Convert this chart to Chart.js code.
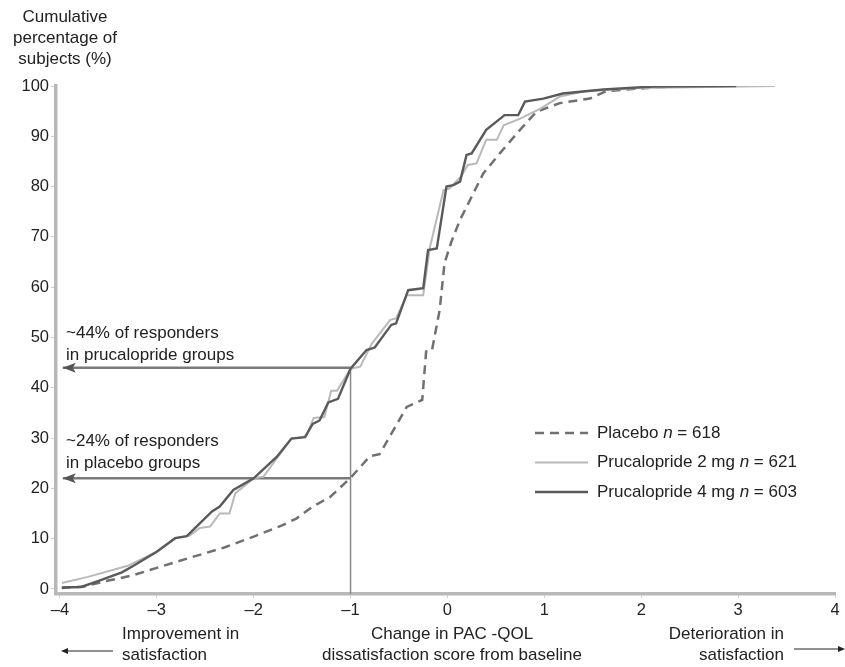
<!DOCTYPE html>
<html>
<head>
<meta charset="utf-8">
<script src="https://cdn.jsdelivr.net/npm/chart.js@4.4.1/dist/chart.umd.min.js"></script>
<style>
  html, body { margin: 0; padding: 0; background: #fff; }
  #wrap { width: 845px; height: 667px; }
</style>
</head>
<body>
<div id="wrap"><canvas id="grafico" width="845" height="667"></canvas></div>
<script>
// valores
const xTicks = [-4, -3, -2, -1, 0, 1, 2, 3, 4];
const yTicks = [0, 10, 20, 30, 40, 50, 60, 70, 80, 90, 100];

const placeboX = [-3.98, -3.75, -3.54, -3.25, -3.0, -2.66, -2.31, -2.0, -1.7, -1.56, -1.39, -1.21, -1.0, -0.8, -0.7, -0.42, -0.26, -0.22, -0.16, -0.08, -0.03, 0.04, 0.13, 0.18, 0.37, 0.54, 0.75, 0.92, 1.16, 1.47, 1.64, 2.2, 2.64];
const placeboY = [0.2, 0.5, 1.5, 2.7, 4.2, 6.2, 8.2, 10.4, 12.7, 14, 16.4, 18.3, 22.1, 26.4, 26.8, 36.2, 37.6, 47.2, 47.4, 55.5, 64.8, 69, 73.4, 75.3, 82.6, 86.6, 91.3, 94.9, 96.6, 97.5, 99, 99.8, 100];

const pru2X = [-3.98, -3.71, -3.3, -3.0, -2.81, -2.66, -2.56, -2.45, -2.35, -2.25, -2.19, -2.0, -1.9, -1.76, -1.61, -1.46, -1.38, -1.27, -1.2, -1.14, -1.0, -0.9, -0.78, -0.59, -0.53, -0.42, -0.25, -0.18, -0.04, 0.02, 0.14, 0.21, 0.3, 0.4, 0.51, 0.58, 0.75, 0.96, 1.16, 1.43, 2.0, 3.38];
const pru2Y = [1.2, 2.4, 4.6, 7.4, 10.1, 10.6, 12.1, 12.4, 15, 15, 19, 22, 22.3, 26, 29.9, 30.3, 34, 34.2, 39.4, 39.4, 43.8, 44.2, 48.8, 53.5, 53.8, 58.4, 58.4, 68, 79.3, 79.6, 82, 84.3, 84.6, 89.3, 89.3, 92.2, 93.5, 95.5, 97.9, 99, 99.6, 100];

const pru4X = [-3.98, -3.78, -3.6, -3.36, -3.24, -3.0, -2.81, -2.69, -2.59, -2.43, -2.35, -2.21, -2.0, -1.76, -1.61, -1.47, -1.39, -1.32, -1.23, -1.13, -1.0, -0.835, -0.75, -0.58, -0.53, -0.405, -0.25, -0.2, -0.11, -0.01, 0.06, 0.13, 0.197, 0.25, 0.4, 0.59, 0.73, 0.8, 0.99, 1.19, 1.61, 2.12, 2.98];
const pru4Y = [0.3, 0.4, 1.6, 3.3, 4.6, 7.4, 10.1, 10.5, 12.4, 15.4, 16.4, 19.7, 22, 26.3, 29.9, 30.2, 32.8, 33.5, 37.1, 37.8, 43.8, 47.5, 48, 52.5, 52.8, 59.4, 59.8, 67.4, 67.7, 80, 80.3, 81, 86.3, 86.6, 91.3, 94.2, 94.2, 96.9, 97.5, 98.5, 99.3, 99.9, 100];

// linhas de referência (setas em 44% e 22%, vertical em -1)
const ref44X = [-3.97, -1];
const ref44Y = [44, 44];
const ref22X = [-3.97, -1];
const ref22Y = [22, 22];
const refVX = [-1, -1];
const refVY = [-1, 44];

const tituloY = ['Cumulative', 'percentage of', 'subjects (%)'];
const legendaNomes = ['Placebo ', 'Prucalopride 2 mg ', 'Prucalopride 4 mg '];
const legendaN = [618, 621, 603];

const FONTE = '"Liberation Sans", Arial, Helvetica, sans-serif';
const COR_P = '#707070';
const COR_2 = '#b9b9b9';
const COR_4 = '#5a5a5a';

const pares = (xs, ys) => xs.map((x, i) => ({ x: x, y: ys[i] }));

const textos = {
    id: 'textos',
    afterDraw(chart) {
        const c = chart.ctx;
        const sx = chart.scales.x, sy = chart.scales.y;
        c.save();
        c.fillStyle = '#222';
        c.font = '17px ' + FONTE;
        c.textBaseline = 'middle';

        c.textAlign = 'center';
        tituloY.forEach((t, i) => c.fillText(t, 65, 17 + i * 21));

        c.textAlign = 'left';
        c.fillText('~44% of responders', 66, 333);
        c.fillText('in prucalopride groups', 66, 355);
        c.fillText('~24% of responders', 66, 441);
        c.fillText('in placebo groups', 66, 463);

        // pontas das setas
        c.fillStyle = '#555';
        [44, 22].forEach(v => {
            const px = sx.getPixelForValue(-3.97), py = sy.getPixelForValue(v);
            c.beginPath();
            c.moveTo(px, py);
            c.lineTo(px + 13, py - 5);
            c.lineTo(px + 10, py);
            c.lineTo(px + 13, py + 5);
            c.closePath();
            c.fill();
        });

        // legenda
        const estilos = [[COR_P, 2.5, [9, 6]], [COR_2, 2, []], [COR_4, 2.5, []]];
        legendaNomes.forEach((nome, i) => {
            const ly = 433 + i * 29.5;
            c.strokeStyle = estilos[i][0];
            c.lineWidth = estilos[i][1];
            c.setLineDash(estilos[i][2]);
            c.beginPath();
            c.moveTo(535, ly);
            c.lineTo(588, ly);
            c.stroke();
            c.setLineDash([]);
            c.fillStyle = '#222';
            let tx = 597;
            c.font = '17px ' + FONTE;
            c.fillText(nome, tx, ly);
            tx += c.measureText(nome).width;
            c.font = 'italic 17px ' + FONTE;
            c.fillText('n', tx, ly);
            tx += c.measureText('n').width;
            c.font = '17px ' + FONTE;
            c.fillText(' = ' + legendaN[i], tx, ly);
        });

        // textos do eixo x
        c.fillStyle = '#222';
        c.font = '17px ' + FONTE;
        c.textAlign = 'left';
        c.fillText('Improvement in', 122, 634);
        c.fillText('satisfaction', 122, 655);
        c.textAlign = 'center';
        c.fillText('Change in PAC -QOL', 452, 634);
        c.fillText('dissatisfaction score from baseline', 452, 655);
        c.textAlign = 'right';
        c.fillText('Deterioration in', 784, 634);
        c.fillText('satisfaction', 784, 655);

        c.strokeStyle = '#222';
        c.lineWidth = 1.2;
        c.beginPath();
        c.moveTo(66, 651); c.lineTo(113, 651);
        c.moveTo(794, 649); c.lineTo(839, 649);
        c.stroke();
        c.fillStyle = '#222';
        c.beginPath();
        c.moveTo(61, 651); c.lineTo(68, 648); c.lineTo(68, 654); c.closePath(); c.fill();
        c.beginPath();
        c.moveTo(845, 649); c.lineTo(838, 646); c.lineTo(838, 652); c.closePath(); c.fill();
        c.restore();
    }
};

const ctx = document.getElementById('grafico').getContext('2d');
const chart = new Chart(ctx, {
    type: 'scatter',
    data: {
        datasets: [
            { data: pares(pru4X, pru4Y), showLine: true, borderColor: COR_4, borderWidth: 2.4, pointRadius: 0, order: 1 },
            { data: pares(pru2X, pru2Y), showLine: true, borderColor: COR_2, borderWidth: 2, pointRadius: 0, order: 2 },
            { data: pares(placeboX, placeboY), showLine: true, borderColor: COR_P, borderWidth: 2.5, borderDash: [9, 6], pointRadius: 0, order: 3 },
            { data: pares(ref44X, ref44Y), showLine: true, borderColor: '#7a7a7a', borderWidth: 2.5, pointRadius: 0, order: 4 },
            { data: pares(ref22X, ref22Y), showLine: true, borderColor: '#7a7a7a', borderWidth: 2.5, pointRadius: 0, order: 4 },
            { data: pares(refVX, refVY), showLine: true, borderColor: '#8a8a8a', borderWidth: 1.5, pointRadius: 0, order: 4 }
        ]
    },
    options: {
        responsive: false,
        animation: false,
        devicePixelRatio: 1,
        layout: { padding: { top: 86, right: 10, left: 0, bottom: 0 } },
        scales: {
            x: {
                type: 'linear',
                min: -4.04,
                max: 4,
                afterBuildTicks: (s) => { s.ticks = xTicks.map(v => ({ value: v })); },
                afterFit: (s) => { s.height = 73; },
                border: { display: true, color: '#b8b8b8', width: 3.5 },
                grid: { drawOnChartArea: false, drawTicks: true, tickLength: 4, color: '#cfcfcf' },
                ticks: {
                    padding: 3,
                    color: '#222',
                    font: { family: FONTE, size: 16.5 },
                    callback: (v) => (v < 0 ? '\u2013' + Math.abs(v) : '' + v)
                }
            },
            y: {
                type: 'linear',
                min: -1,
                max: 100,
                afterBuildTicks: (s) => { s.ticks = yTicks.map(v => ({ value: v })); },
                afterFit: (s) => { s.width = 56; },
                border: { display: true, color: '#b8b8b8', width: 3.5 },
                grid: { drawOnChartArea: false, drawTicks: true, tickLength: 5, color: '#cfcfcf' },
                ticks: {
                    padding: 2,
                    color: '#222',
                    font: { family: FONTE, size: 16.5 }
                }
            }
        },
        plugins: {
            legend: { display: false },
            tooltip: { enabled: false }
        }
    },
    plugins: [textos]
});
</script>
</body>
</html>
